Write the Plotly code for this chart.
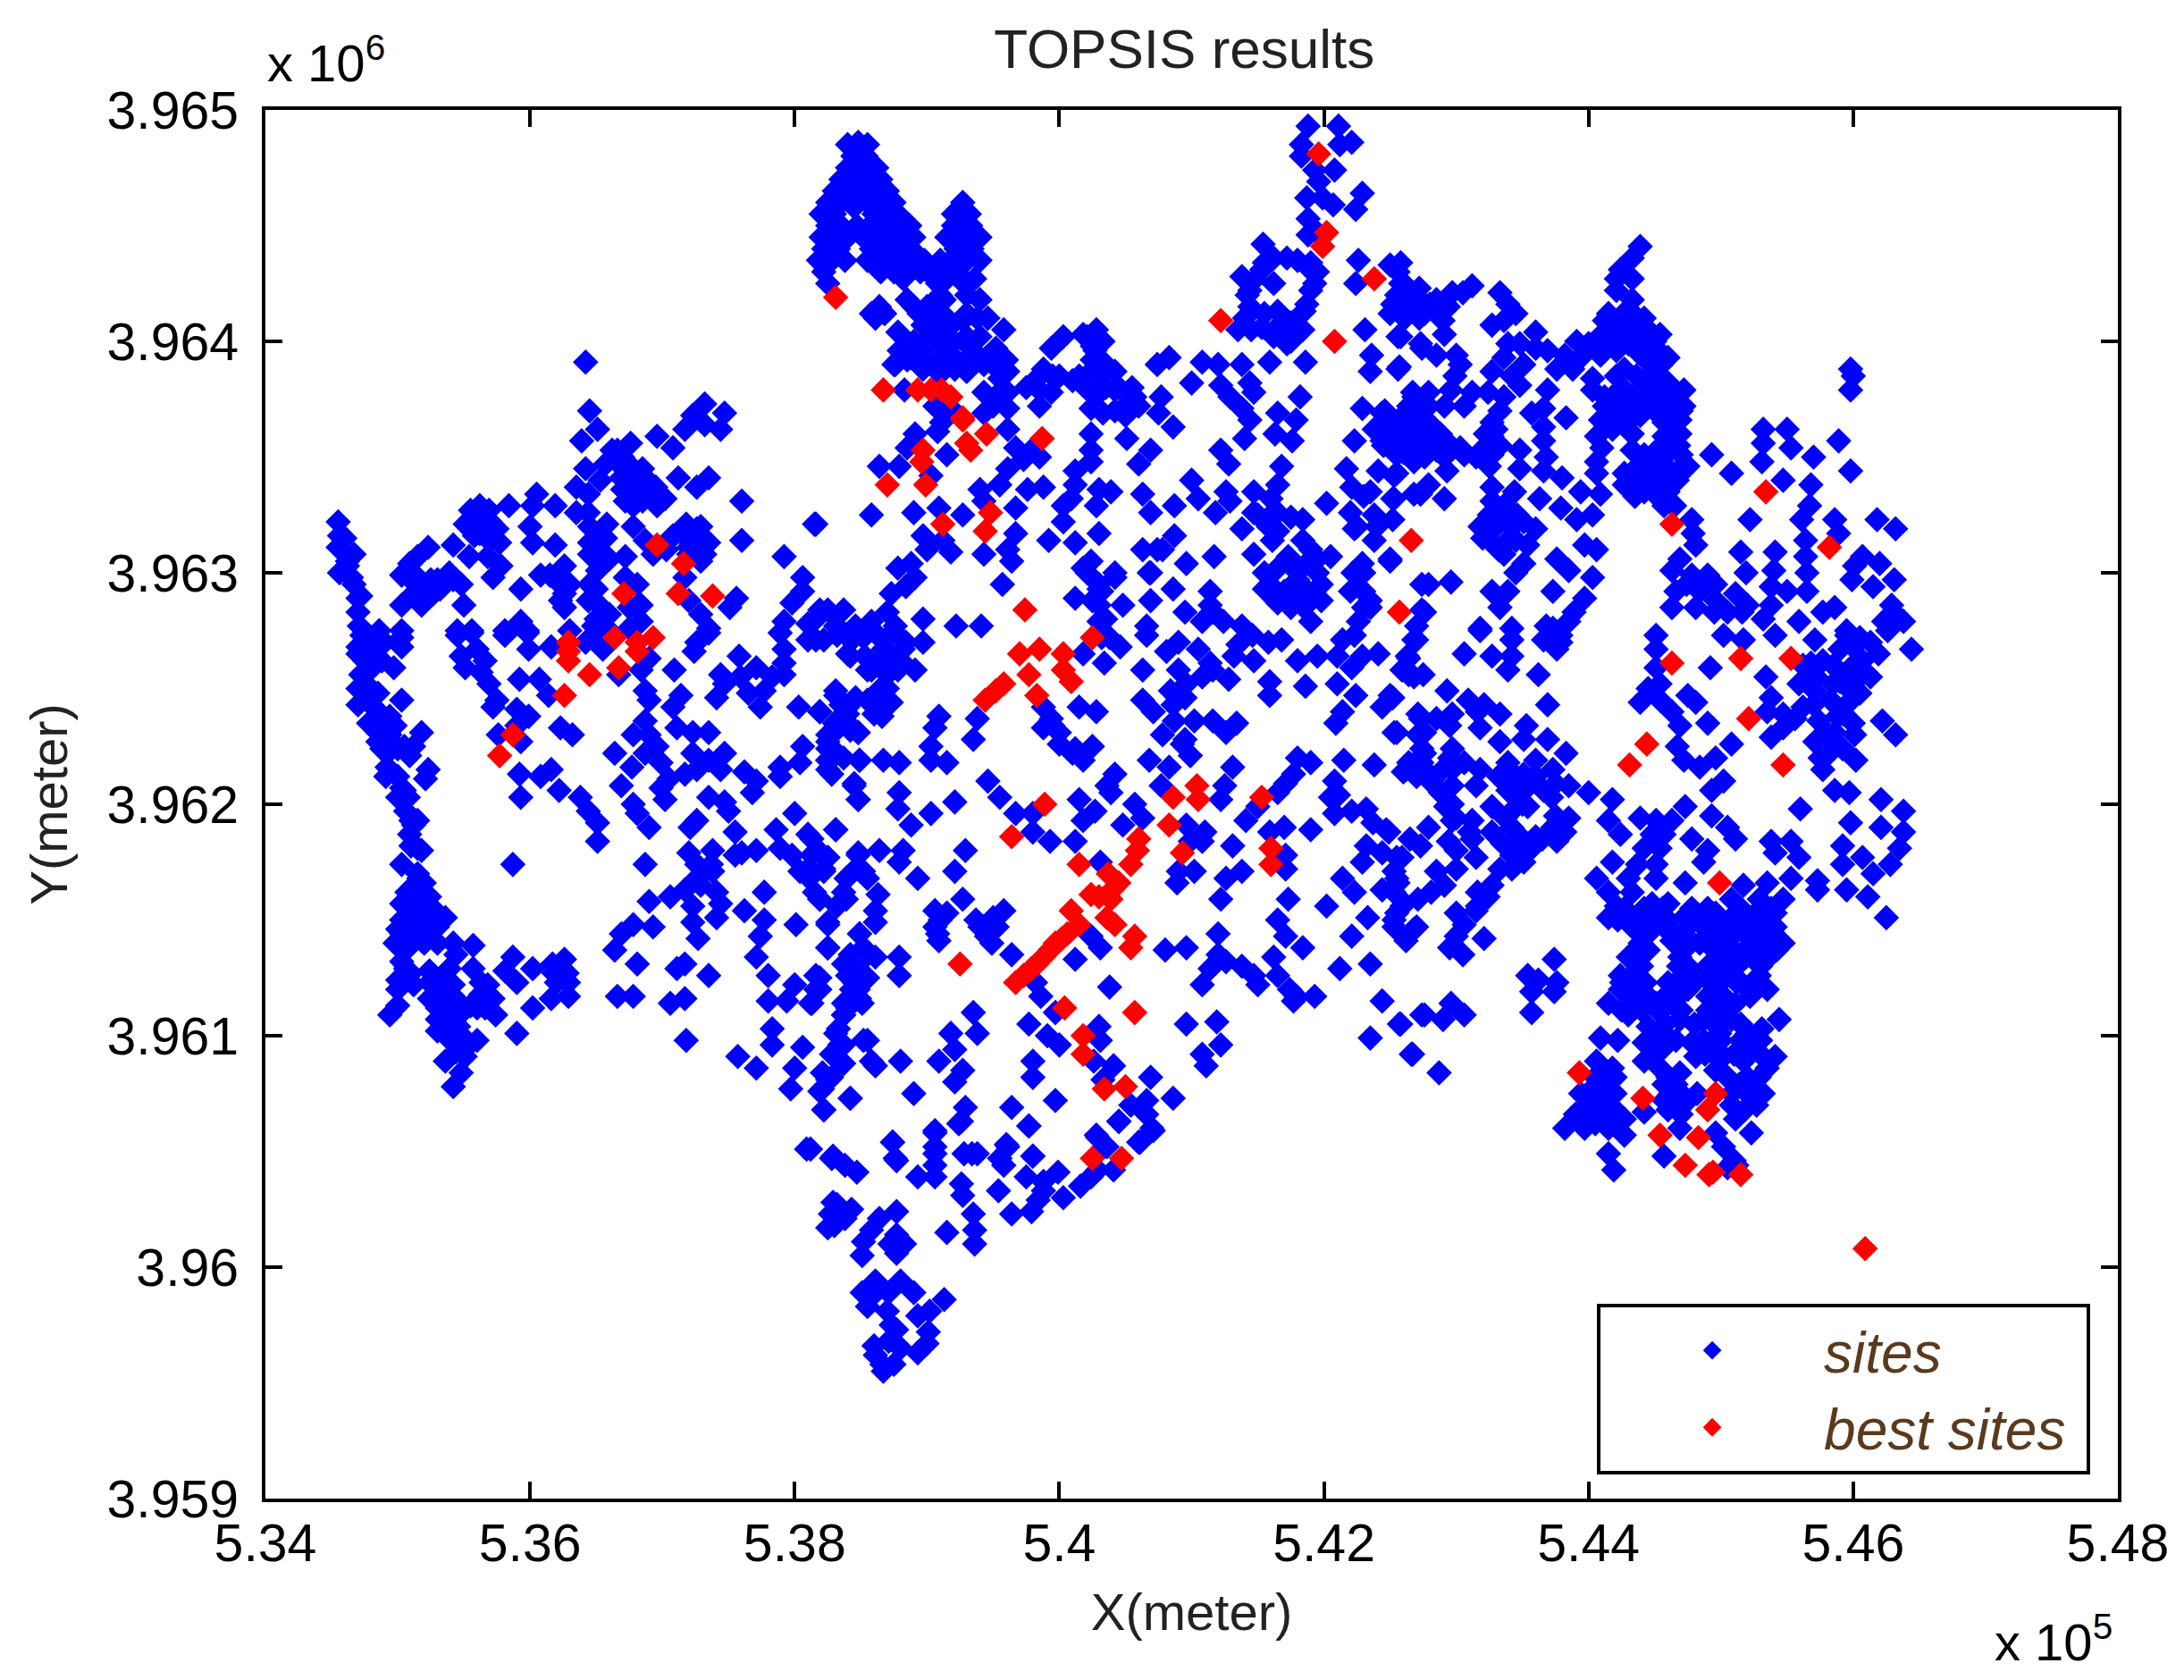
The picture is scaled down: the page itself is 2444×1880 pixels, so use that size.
import plotly.graph_objects as go

# positions, in kilometres (x, y)
sites_nc = [(541.88,3964.93),(542.11,3964.93),(538.40,3964.85),(538.48,3964.86),(538.55,3964.85),(541.83,3964.85),(542.12,3964.85),(542.21,3964.86),
(538.40,3964.75),(538.52,3964.75),(538.62,3964.75),(541.83,3964.80),(541.93,3964.74),(542.08,3964.74),
(538.30,3964.65),(538.40,3964.65),(538.50,3964.65),(538.60,3964.65),(538.70,3964.65),(541.96,3964.69),(542.29,3964.64),
(538.20,3964.55),(538.30,3964.55),(538.45,3964.58),(538.60,3964.55),(538.70,3964.55),(538.78,3964.55),(541.87,3964.62),(541.99,3964.62),(542.07,3964.59),(542.24,3964.57),(539.26,3964.58),
(538.20,3964.45),(538.28,3964.45),(538.40,3964.45),(538.52,3964.45),(538.62,3964.45),(538.72,3964.45),(538.82,3964.45),(538.90,3964.45),(539.15,3964.45),(539.27,3964.45),(539.27,3964.52),(539.40,3964.45),(541.88,3964.53),(541.95,3964.47),
(538.18,3964.35),(538.28,3964.35),(538.38,3964.35),(538.55,3964.35),(538.65,3964.35),(538.75,3964.35),(538.85,3964.35),(538.92,3964.35),(538.98,3964.35),(539.10,3964.35),(539.18,3964.35),(539.30,3964.35),(539.40,3964.35),(541.54,3964.42),(541.88,3964.46),(542.26,3964.35),(542.50,3964.33),
(538.25,3964.25),(538.60,3964.33),(538.82,3964.27),(539.06,3964.27),(539.24,3964.28),(539.36,3964.27),(541.38,3964.28),(541.53,3964.31),(541.72,3964.36),(541.90,3964.34),(541.93,3964.25),(541.44,3964.22),(541.62,3964.25),(542.24,3964.25),(542.59,3964.25),
(538.85,3964.18),(539.08,3964.18),(539.40,3964.18),(538.64,3964.15),(541.44,3964.15),(541.65,3964.13),(541.87,3964.16),(542.56,3964.16),(542.68,3964.15),
(538.61,3964.10),(538.78,3964.04),(538.97,3964.07),(539.11,3964.06),(539.27,3964.09),(539.46,3964.10),(539.58,3964.05),(540.03,3964.02),(540.21,3964.02),(540.33,3964.00),(541.35,3964.05),(541.53,3964.06),(541.68,3964.08),(541.84,3964.05),(542.31,3964.05),(542.56,3964.02),
(538.79,3963.96),(538.97,3963.96),(539.15,3963.96),(539.33,3963.97),(539.52,3963.97),(539.94,3963.97),(540.27,3963.96),(541.75,3964.00),(541.08,3963.91),(541.20,3963.90),(541.38,3963.90),(540.83,3963.93),(541.59,3963.91),(541.86,3963.91),(542.36,3963.94),(542.74,3963.97),
(538.76,3963.90),(538.97,3963.88),(539.21,3963.88),(539.43,3963.90),(539.61,3963.87),(539.88,3963.88),(540.00,3963.85),(540.24,3963.87),(540.42,3963.87),(540.74,3963.90),(541.00,3963.82),(541.22,3963.81),(541.44,3963.82),(542.35,3963.87),(542.56,3963.88),
(538.83,3963.79),(539.43,3963.78),(539.61,3963.78),(539.85,3963.79),(539.94,3963.78),(540.18,3963.81),(540.27,3963.76),(540.42,3963.79),(540.57,3963.76),(540.77,3963.76),(541.29,3963.76),(541.47,3963.78),(541.82,3963.76),(542.68,3963.76),(539.06,3963.72),(539.20,3963.70),
(539.11,3963.65),(539.43,3963.69),(539.61,3963.71),(539.85,3963.72),(540.24,3963.71),(540.33,3963.69),(540.54,3963.72),(540.75,3963.69),(540.86,3963.63),(541.38,3963.71),(541.44,3963.66),(541.65,3963.69),(541.79,3963.66),(542.29,3963.71),(542.44,3963.69),(542.68,3963.69),
(539.61,3963.62),(538.91,3963.60),(539.08,3963.61),(540.24,3963.60),(540.51,3963.58),(541.40,3963.58),(541.22,3963.53),(541.63,3963.60),(541.76,3963.57),(542.23,3963.57),(542.44,3963.57),(542.68,3963.57),
(539.67,3963.54),(539.79,3963.53),(539.15,3963.51),(538.85,3963.54),(540.24,3963.53),(540.69,3963.53),
(538.64,3963.46),(538.79,3963.46),(539.03,3963.42),(539.61,3963.45),(539.73,3963.49),(539.85,3963.50),(540.12,3963.44),(540.24,3963.48),(540.60,3963.47),(541.28,3963.47),(541.68,3963.46),(542.17,3963.45),(542.41,3963.44),(542.53,3963.42),(542.68,3963.48),
(539.40,3963.36),(539.55,3963.38),(539.76,3963.36),(539.88,3963.37),(540.12,3963.38),(540.30,3963.36),(540.39,3963.35),(540.63,3963.34),(541.00,3963.40),(541.26,3963.35),(541.47,3963.35),(541.65,3963.38),(542.21,3963.37),(542.35,3963.35),(542.68,3963.34),
(538.16,3963.21),(538.58,3963.25),(538.90,3963.26),(539.09,3963.28),(539.27,3963.25),(539.43,3963.31),(539.67,3963.28),(540.03,3963.29),(540.09,3963.32),(540.28,3963.29),(540.69,3963.26),(540.87,3963.29),(541.05,3963.32),(541.18,3963.26),(541.29,3963.31),(541.47,3963.26),(541.65,3963.26),(541.84,3963.23),(542.02,3963.30),(542.20,3963.26),(542.38,3963.25),(542.53,3963.32),
(538.97,3963.16),(539.12,3963.14),(539.67,3963.17),(539.92,3963.14),(540.03,3963.22),(540.12,3963.13),(540.30,3963.17),(540.87,3963.16),(541.38,3963.19),(541.61,3963.14),(541.84,3963.14),(542.23,3963.19),(542.38,3963.14),
(539.00,3963.10),(539.18,3963.09),(539.43,3963.08),(539.61,3963.10),(539.64,3963.05),(540.63,3963.10),(540.78,3963.10),(540.96,3963.04),(541.17,3963.07),(541.47,3963.08),(541.73,3963.07),(542.05,3963.07),(542.29,3963.04),(542.50,3963.05),(538.78,3963.02),(538.88,3963.04),(540.24,3963.05),
(538.91,3962.98),(538.84,3962.94),(539.57,3962.95),(540.18,3963.02),(540.30,3962.95),(540.42,3963.00),(540.69,3963.00),(540.86,3962.93),(541.14,3962.92),(541.59,3962.95),(541.80,3962.97),(541.98,3962.95),(542.26,3962.94),(542.74,3962.95),
(538.73,3962.91),(538.70,3962.83),(540.12,3962.89),(540.30,3962.86),(540.48,3962.86),(540.69,3962.88),(541.14,3962.86),(541.62,3962.89),(541.80,3962.88),(541.98,3962.88),(542.35,3962.88),(542.74,3962.84),(538.25,3962.84),(538.37,3962.84),
(538.16,3962.80),(538.31,3962.77),(538.46,3962.77),(538.58,3962.79),(538.76,3962.77),(538.97,3962.80),(539.22,3962.77),(539.41,3962.77),(540.30,3962.79),(540.66,3962.77),(541.08,3962.79),(541.24,3962.79),(541.38,3962.77),(541.90,3962.79),(542.26,3962.79)]

sites_nw = [(536.42,3963.91),(536.45,3963.70),(537.32,3963.73),(537.47,3963.69),(537.23,3963.68),(537.17,3963.62),(537.44,3963.62),(537.32,3963.64),(536.96,3963.59),(537.08,3963.54),
(536.51,3963.62),(536.39,3963.57),(536.42,3963.45),(536.66,3963.53),(536.76,3963.56),(536.57,3963.47),(536.53,3963.40),(536.35,3963.37),(536.44,3963.34),(536.69,3963.46),(536.78,3963.45),(536.87,3963.41),(536.69,3963.41),(536.75,3963.35),(536.90,3963.35),(537.02,3963.32),(536.78,3963.29),(536.96,3963.29),(536.85,3963.33),
(537.12,3963.41),(537.35,3963.41),(537.26,3963.37),(537.60,3963.31),(536.05,3963.34),(536.19,3963.29),(536.02,3963.29),(535.84,3963.29),(535.69,3963.27),(535.62,3963.29),(535.62,3963.22),(535.51,3963.21),(535.75,3963.19),(535.69,3963.14),(535.77,3963.13),(535.62,3963.17),
(536.35,3963.26),(536.44,3963.26),(536.58,3963.21),(536.00,3963.20),(536.02,3963.13),(536.19,3963.12),(536.45,3963.13),(536.57,3963.15),(536.47,3963.07),(536.60,3963.06),(536.72,3963.07),(536.51,3963.01),(536.45,3963.20),
(536.78,3963.20),(536.87,3963.14),(536.93,3963.08),(537.08,3963.16),(537.29,3963.20),(537.35,3963.13),(537.20,3963.08),(537.29,3963.05),(537.60,3963.14),(537.18,3963.21),(537.23,3963.16),
(537.92,3963.07),(538.15,3963.21),(538.06,3962.98),(538.06,3962.92),(537.98,3962.87),(538.19,3962.84),(537.92,3962.79),(538.10,3962.78),
(534.55,3963.22),(534.56,3963.16),(534.55,3963.11),(534.67,3963.08),(534.56,3963.00),(534.67,3962.95),(534.70,3962.89),(534.70,3962.83),(534.71,3962.77),(534.62,3963.03),
(535.42,3963.12),(535.54,3963.07),(535.23,3963.11),(535.15,3963.07),(535.09,3963.04),(535.03,3962.99),(535.68,3963.07),(535.78,3963.03),(535.72,3962.98),(535.93,3962.93),
(536.08,3962.99),(536.26,3963.03),(536.23,3962.95),(536.26,3962.91),(536.26,3962.85),(536.15,3962.99),(536.45,3962.95),(536.44,3962.88),(536.54,3962.85),(536.60,3962.82),(536.50,3962.80),
(536.72,3962.98),(536.81,3962.95),(536.84,3962.86),(536.84,3962.79),(536.48,3962.77),(537.17,3962.98),(537.20,3962.88),(537.29,3962.82),(537.35,3962.76),(537.56,3962.89),(537.51,3962.85),
(535.09,3962.98),(535.18,3962.95),(535.30,3962.97),(535.39,3963.00),(535.48,3962.95),(535.12,3962.91),(535.27,3962.91),(535.18,3962.86),(535.03,3962.86),(535.50,3962.86),(535.20,3962.93),
(535.93,3962.79),(534.86,3962.75),(535.03,3962.75),(535.45,3962.75),(535.56,3962.75),(535.81,3962.75),(535.98,3962.75),(536.30,3962.75),(536.60,3962.75)]

sites_sw = [(534.73,3962.73),(535.03,3962.72),(535.45,3962.73),(535.56,3962.74),(535.81,3962.73),(535.98,3962.74),(535.99,3962.67),(536.16,3962.68),(534.76,3962.70),(534.85,3962.70),(534.70,3962.65),(534.82,3962.64),(535.03,3962.68),(534.79,3962.58),(534.97,3962.59),
(535.48,3962.64),(535.60,3962.67),(535.66,3962.62),(535.51,3962.59),(535.63,3962.57),(535.69,3962.52),(535.75,3962.45),(535.72,3962.42),(535.90,3962.41),(535.99,3962.38),(535.92,3962.54),(536.07,3962.54),
(534.76,3962.52),(534.76,3962.46),(534.82,3962.42),(534.88,3962.36),(534.94,3962.38),(534.85,3962.31),(534.94,3962.30),(535.00,3962.24),(534.88,3962.24),(535.12,3962.25),(535.18,3962.31),(535.09,3962.21),(535.03,3962.45),(534.80,3962.49),(534.84,3962.38),
(534.92,3962.16),(534.91,3962.12),(535.00,3962.12),(535.23,3962.15),(535.21,3962.11),(535.03,3962.02),(535.06,3961.97),(535.12,3961.91),(535.09,3961.87),(535.15,3961.81),(535.03,3961.74),(535.05,3962.06),
(535.16,3961.68),(535.09,3961.62),(535.24,3961.60),(535.09,3961.54),(535.24,3961.54),(535.36,3961.51),(535.03,3961.44),(535.21,3961.47),(535.12,3961.49),(535.16,3961.57),(535.06,3961.37),(535.06,3961.29),(535.00,3961.20),(535.00,3961.13),(534.94,3961.09),
(535.30,3961.40),(535.42,3961.40),(535.57,3961.39),(535.44,3961.35),(535.39,3961.29),(535.24,3961.23),(535.42,3961.22),(535.24,3961.16),(535.36,3961.13),(535.39,3961.04),(535.30,3961.07),(535.45,3960.97),(535.60,3960.98),(535.51,3960.91),(535.36,3960.89),(535.48,3960.84),(535.42,3960.78),(535.33,3961.20),(535.45,3961.08),
(535.57,3961.29),(535.63,3961.23),(535.72,3961.16),(535.60,3961.12),(535.74,3961.09),(535.87,3961.34),(535.81,3961.28),(535.90,3961.23),(536.02,3961.29),(536.17,3961.31),(536.26,3961.33),(536.20,3961.23),(536.29,3961.23),(536.16,3961.16),(536.29,3961.17),(536.02,3961.12),(535.90,3961.01),
(535.87,3961.74),(536.87,3961.74),(536.66,3961.17),(536.78,3961.17),(537.06,3961.14),(537.17,3961.16),(537.18,3960.98),(537.57,3960.91),(537.71,3960.86),
(536.64,3961.37),(536.69,3961.44),(536.78,3961.48),(536.93,3961.47),(536.81,3961.31),(537.17,3961.31),(537.11,3961.29),(537.35,3961.26),(536.90,3961.58),(537.06,3961.60),(537.23,3961.56),(537.41,3961.51),(537.23,3961.49),(537.27,3961.42),
(537.20,3961.79),(537.38,3961.80),(537.26,3961.74),(537.38,3961.71),(537.29,3961.65),(537.41,3961.62),(537.17,3961.63),(537.44,3961.57),(537.77,3961.62),(537.62,3961.54),(537.77,3961.50),(537.74,3961.43),(537.71,3961.34),
(538.01,3961.48),(538.25,3961.48),(538.25,3961.38),(537.80,3961.26),(538.00,3961.22),(538.19,3961.25),(538.16,3961.20),(537.80,3961.15),(537.94,3961.15),(538.12,3961.14),(537.83,3961.03),(537.83,3960.96),(538.06,3960.95),(538.00,3960.86),
(538.37,3961.09),(538.31,3961.01),(538.37,3960.96),(538.28,3960.92),(538.34,3960.89),(538.58,3960.89),(538.28,3960.82),(538.21,3960.77),(537.97,3960.77),(538.42,3960.73),(538.22,3960.68),(538.09,3960.51),(538.28,3960.47),
(538.40,3961.31),(538.49,3961.28),(538.43,3961.20),(538.49,3961.16),(538.55,3961.25),(538.52,3960.98),(538.49,3961.44),(538.55,3961.35),(538.37,3961.59),(538.19,3961.59),
(538.10,3961.87),(538.13,3961.78),(538.04,3961.71),(538.22,3961.72),(538.25,3961.77),(538.48,3961.78),(538.39,3961.68),(538.52,3961.71),(538.31,3961.89),(537.86,3961.89),(537.89,3961.81),(537.98,3961.78),(537.71,3961.80),(537.55,3961.78),(537.55,3961.88),(537.50,3961.97),(537.47,3962.01),(538.00,3961.96),(537.26,3961.93),(537.21,3961.90),(537.60,3961.79),
(537.35,3962.03),(537.02,3962.02),(536.99,3962.07),(537.05,3962.11),(537.17,3962.13),(537.26,3962.15),(537.44,3962.15),(537.62,3962.14),(537.71,3962.10),(537.68,3962.05),(537.23,3962.22),(537.35,3962.19),(537.47,3962.22),(537.89,3962.16),(537.89,3962.12),(538.06,3962.25),(538.04,3962.18),
(538.25,3962.27),(538.25,3962.19),(538.28,3962.13),(538.49,3962.19),(538.45,3962.08),(538.48,3962.02),(536.87,3962.36),(536.78,3962.30),(536.90,3962.30),(536.96,3962.25),(536.87,3962.22),(536.99,3962.18),(536.64,3962.22),(536.77,3962.16),
(537.11,3962.33),(537.23,3962.31),(537.35,3962.31),(536.23,3962.33),(536.32,3962.30),(535.76,3962.30),(535.90,3962.34),(535.93,3962.27),(535.92,3962.13),(535.93,3962.03),(536.16,3962.15),(536.08,3962.12),(536.22,3962.06),(536.38,3962.03),(536.44,3961.97),(536.51,3961.92),(536.51,3961.84),(536.69,3962.08),(536.78,3962.00),(536.81,3961.96),(536.90,3961.90),
(536.42,3962.70),(536.14,3962.47),(536.67,3962.56),(536.84,3962.58),(536.90,3962.63),(536.87,3962.49),(536.90,3962.45),(537.14,3962.47),(537.08,3962.42),(537.09,3962.58),(537.58,3962.64),(537.41,3962.46),(537.26,3962.70),(537.24,3962.66),(537.35,3962.74),(537.44,3962.56),(537.59,3962.55),(537.71,3962.59),(537.47,3962.52),(537.65,3962.48),(537.77,3962.49),(537.74,3962.42),
(537.92,3962.67),(537.92,3962.61),(537.92,3962.56),(537.83,3962.55),(537.89,3962.74),(538.10,3962.71),(538.22,3962.71),(538.40,3962.65),(538.55,3962.58),(538.03,3962.42),(538.19,3962.40),(538.31,3962.49),(538.46,3962.46),(538.40,3962.42),(538.37,3962.36),(538.48,3962.31),(538.55,3962.45)]

sites_sc = [(538.16,3962.71),(538.37,3962.74),(538.61,3962.74),(538.76,3962.74),(538.97,3962.70),(538.67,3962.67),(538.82,3962.67),(538.42,3962.64),(538.82,3962.61),(538.91,3962.58),(538.70,3962.56),(538.58,3962.58),(538.70,3962.50),
(538.31,3962.47),(538.43,3962.44),(538.58,3962.44),(538.73,3962.44),(538.19,3962.40),(538.40,3962.39),(538.66,3962.38),(539.09,3962.38),(538.48,3962.31),(538.28,3962.30),(538.25,3962.24),(539.06,3962.33),(539.03,3962.25),(539.38,3962.37),(539.35,3962.28),
(538.25,3962.19),(538.49,3962.19),(538.67,3962.19),(538.79,3962.18),(539.03,3962.19),(539.15,3962.18),(538.25,3962.15),(538.45,3962.09),(538.48,3962.02),(538.79,3962.05),(538.78,3961.98),(539.21,3962.01),(539.03,3961.96),(538.88,3961.91),(539.46,3962.10),(539.55,3962.03),
(539.67,3961.96),(539.80,3961.96),(539.80,3961.88),(539.93,3961.84),(540.12,3961.84),(540.15,3962.02),(540.27,3961.97),(540.18,3961.93),(538.31,3961.89),(538.13,3961.85),(538.13,3961.78),(538.25,3961.77),(538.64,3961.80),(538.48,3961.79),(538.82,3961.80),(538.79,3961.75),
(538.46,3961.72),(538.39,3961.68),(538.55,3961.68),(538.22,3961.71),(538.11,3961.68),(538.93,3961.68),(539.21,3961.71),(539.29,3961.80),(538.63,3961.61),(538.19,3961.59),(538.39,3961.59),(538.61,3961.54),(539.27,3961.59),(538.25,3961.49),(538.61,3961.49),(538.49,3961.44),
(539.06,3961.54),(539.15,3961.53),(539.06,3961.47),(539.09,3961.41),(539.37,3961.50),(539.58,3961.54),(539.52,3961.47),(539.40,3961.47),(539.49,3961.40),(538.25,3961.38),(538.52,3961.38),(538.61,3961.34),(538.79,3961.34),(538.37,3961.31),(538.79,3961.26),(538.16,3961.26),(538.45,3961.23),(538.55,3961.25),(538.19,3961.20),(538.45,3961.17),(538.51,3961.14),
(539.64,3961.35),(540.12,3961.33),(538.13,3961.14),(538.37,3961.09),(539.35,3961.10),(538.33,3961.03),(539.38,3961.01),(539.18,3961.01),(538.55,3960.98),(538.34,3960.96),(539.21,3960.94),(538.28,3960.92),(538.37,3960.88),(538.61,3960.87),(538.80,3960.89),(539.09,3960.89),(539.27,3960.85),(539.21,3960.80),
(538.25,3960.81),(538.19,3960.76),(538.42,3960.73),(538.90,3960.75),(538.22,3960.68),(539.29,3960.69),(539.24,3960.62),(539.64,3960.69),(539.77,3960.61),(539.97,3960.72),(539.06,3960.58),(539.06,3960.49),(538.74,3960.54),(538.12,3960.51),(538.28,3960.47),(538.76,3960.47),
(539.34,3960.49),(539.61,3960.52),(539.55,3960.47),(539.80,3960.48),(539.80,3960.89),(539.80,3960.82),(539.77,3961.05),(539.91,3961.00),(540.00,3960.96),(540.30,3961.04),(540.31,3960.98),(539.97,3961.10),(539.82,3961.23),(539.86,3961.17),(540.24,3961.43),(540.31,3961.38),(540.38,3961.21),
(540.26,3960.89),(540.41,3960.87),(540.33,3960.81),(540.69,3960.82),(540.86,3960.73),(540.66,3960.72),(540.54,3960.70),(540.45,3960.63),(540.66,3960.66),(540.71,3960.59),(540.60,3960.54),(540.28,3960.57),(540.36,3960.52),
(540.96,3961.05),(541.19,3961.06),(541.22,3960.96),(541.08,3960.92),(541.11,3960.87),(540.80,3961.37),(540.96,3961.38),(541.20,3961.44),(541.20,3961.35),(541.14,3961.29),(541.38,3961.30),(541.08,3961.22),(541.65,3961.50),(541.71,3961.43),(541.84,3961.38),(541.62,3961.34),(541.65,3961.26),(541.50,3961.22),(541.74,3961.20),(541.93,3961.17),(541.77,3961.15),
(541.22,3961.59),(541.73,3961.59),(542.02,3961.56),(541.26,3961.68),(541.38,3961.71),(540.90,3961.71),(541.02,3961.71),(540.89,3961.66),(540.31,3961.75),(541.08,3961.84),(541.10,3961.88),(540.99,3961.84),(541.31,3961.82),(540.96,3961.91),(540.48,3961.91),(540.63,3961.94),(540.57,3962.00),(541.41,3961.93),(541.50,3961.99),
(541.59,3961.88),(541.70,3961.90),(541.90,3961.89),(541.71,3961.78),(541.71,3961.72),(541.65,3962.05),(541.71,3962.09),(541.77,3962.13),(541.80,3962.20),(541.90,3962.18),(542.15,3962.19),(542.38,3962.17),(540.77,3962.08),(540.42,3962.13),(540.36,3962.08),(540.39,3962.05),(541.25,3962.08),(541.22,3962.02),(541.31,3962.16),(540.68,3962.19),(540.83,3962.16),
(542.08,3962.10),(542.05,3962.03),(542.08,3961.96),(542.21,3961.97),(542.32,3961.98),(542.47,3961.89),(542.32,3961.82),(542.65,3961.85),(542.44,3961.79),(542.29,3961.75),(542.59,3961.77),(542.53,3961.71),(542.56,3961.66),(542.14,3961.68),(542.23,3961.62),(542.44,3961.63),(542.33,3961.51),(542.21,3961.43),(542.59,3961.56),(542.71,3961.59),(542.53,3961.47),(542.68,3961.46),(542.62,3961.41),(542.12,3961.29),(542.35,3961.31),(542.44,3961.15),(542.74,3961.09),(542.57,3961.05),(542.35,3960.99),(542.66,3960.92),
(540.18,3962.65),(540.46,3962.68),(540.34,3962.61),(540.15,3962.42),(540.28,3962.40),(539.88,3962.42),(539.94,3962.37),(539.88,3962.33),(540.00,3962.31),(540.00,3962.26),(540.12,3962.24),(540.25,3962.25),(540.18,3962.19),(540.63,3962.58),(540.66,3962.73),(540.90,3962.70),(540.81,3962.66),(541.05,3962.67),(541.14,3962.61),(540.90,3962.58),(541.08,3962.55),(540.96,3962.52),(540.84,3962.49),(540.63,3962.45),(540.71,3962.40),(540.86,3962.43),(540.87,3962.36),
(541.32,3962.64),(541.46,3962.73),(541.35,3962.69),(541.58,3962.70),(541.68,3962.71),(541.47,3962.62),(541.28,3962.54),(541.59,3962.53),(541.59,3962.47),(541.86,3962.51),(541.80,3962.62),(541.95,3962.64),(542.10,3962.64),(542.29,3962.64),(542.41,3962.65),(542.21,3962.59),(542.10,3962.52),(542.24,3962.47),(542.14,3962.71),(542.23,3962.73),(542.14,3962.40),(542.09,3962.35),(542.50,3962.47),(542.44,3962.42),(542.53,3962.31),
(542.71,3962.39),(542.68,3962.71),(542.59,3962.58),(542.68,3962.55),(542.71,3962.30),(542.74,3962.24),(542.62,3962.15),(542.74,3962.18),(541.16,3962.36),(541.02,3962.36),(541.34,3962.35),(541.26,3962.31),(540.78,3962.30),(540.93,3962.26),(540.99,3962.21)]

sites_ne = [(544.39,3964.41),(544.33,3964.36),(544.24,3964.31),(544.21,3964.27),(544.33,3964.27),(544.21,3964.22),(544.33,3964.18),(544.12,3964.09),(544.27,3964.10),(544.42,3964.10),(544.45,3964.05),(544.54,3964.03),(544.27,3964.05),(544.15,3964.03),(543.91,3964.00),(544.00,3963.99),(543.82,3963.94),(543.94,3963.93),(544.09,3963.94),(544.21,3963.96),(544.30,3963.99),
(544.51,3963.97),(544.60,3963.93),(544.45,3963.91),(543.76,3963.88),(543.88,3963.88),(544.03,3963.84),(544.21,3963.85),(544.45,3963.85),(544.60,3963.82),(544.72,3963.79),(544.03,3963.79),(544.27,3963.79),(544.39,3963.79),(544.51,3963.78),(544.12,3963.72),(544.27,3963.73),(544.42,3963.73),(544.57,3963.73),(544.72,3963.72),(544.09,3963.66),(544.24,3963.68),(544.39,3963.68),(544.57,3963.65),(544.69,3963.66),(544.06,3963.59),(544.18,3963.62),(544.33,3963.60),(544.57,3963.59),(544.69,3963.60),
(544.10,3963.54),(544.33,3963.53),(544.42,3963.51),(544.63,3963.54),(544.70,3963.51),(544.06,3963.48),(544.39,3963.47),(544.57,3963.47),(544.75,3963.46),(544.06,3963.43),(544.27,3963.43),(544.42,3963.43),(544.60,3963.43),(544.30,3963.37),(544.42,3963.35),(544.60,3963.35),(544.57,3963.29),
(544.93,3963.51),(545.08,3963.43),(545.32,3963.62),(545.50,3963.62),(545.32,3963.56),(545.53,3963.54),(545.31,3963.48),(545.70,3963.50),(545.89,3963.57),(545.98,3963.44),(545.47,3963.40),(545.68,3963.38),(545.67,3963.29),(545.22,3963.23),(545.61,3963.23),(545.86,3963.23),(546.18,3963.23),(546.32,3963.19),(545.89,3963.17),(545.64,3963.14),
(544.78,3963.23),(544.79,3963.17),(544.81,3963.12),(544.69,3963.06),(544.63,3963.01),(544.78,3962.99),(544.90,3962.99),(545.98,3963.88),(546.00,3963.85),(545.98,3963.79),(545.15,3963.09),(545.19,3963.00),(545.41,3963.09),(545.40,3963.01),(545.64,3963.07),(545.65,3963.00),(546.07,3963.07),(546.01,3963.03),(546.20,3963.04),(545.99,3962.97),(546.15,3962.94),(546.31,3962.97),
(544.66,3962.92),(544.84,3962.92),(544.96,3962.95),(544.63,3962.85),(544.81,3962.85),(544.96,3962.88),(545.05,3962.83),(545.11,3962.91),(545.20,3962.86),(545.38,3962.94),(545.38,3962.86),(545.50,3962.92),(545.65,3962.92),(545.32,3962.80),(545.59,3962.79),(545.77,3962.83),(545.86,3962.85),(546.29,3962.86),(546.32,3962.82),(546.23,3962.79),(546.38,3962.79),(545.95,3962.75),
(542.58,3964.02),(542.58,3964.34),(542.58,3964.25),(542.67,3964.21),(542.52,3964.16),(542.64,3964.15),(542.76,3964.16),(542.61,3964.10),(542.85,3964.18),(542.97,3964.21),(543.12,3964.24),(542.94,3964.15),(543.33,3964.21),(543.39,3964.16),(543.45,3964.12),(543.36,3964.09),(543.27,3964.07),(542.90,3964.09),(542.91,3964.03),(543.60,3964.04),
(542.73,3963.99),(542.85,3963.94),(543.00,3963.94),(543.03,3963.90),(542.57,3963.89),(543.39,3963.99),(543.48,3963.99),(543.36,3963.93),(543.60,3963.97),(543.69,3963.96),(543.51,3963.90),(543.27,3963.87),(543.42,3963.85),(542.99,3963.85),(542.96,3963.79),(542.67,3963.78),(542.79,3963.78),(543.48,3963.81),(543.69,3963.79),(543.12,3963.78),(543.24,3963.78),(543.36,3963.76),
(542.64,3963.72),(542.79,3963.72),(542.91,3963.72),(543.06,3963.72),(543.33,3963.70),(542.52,3963.65),(542.64,3963.65),(542.79,3963.65),(543.27,3963.65),(543.57,3963.69),(543.66,3963.71),(543.83,3963.67),(542.88,3963.60),(542.52,3963.57),(542.64,3963.57),(542.76,3963.57),(543.66,3963.63),(543.27,3963.59),(543.21,3963.54),(543.03,3963.54),
(542.55,3963.51),(542.76,3963.50),(542.91,3963.50),(543.06,3963.51),(543.27,3963.51),(543.48,3963.53),(543.66,3963.57),(543.68,3963.50),(543.66,3963.44),(543.48,3963.45),(542.55,3963.43),(542.93,3963.44),(543.80,3963.41),(542.79,3963.38),(542.52,3963.32),(542.73,3963.34),(542.91,3963.32),(543.27,3963.37),(543.44,3963.35),(543.36,3963.29),(543.63,3963.32),(543.79,3963.28),(543.94,3963.35),(544.09,3963.34),(543.91,3963.23),(544.03,3963.25),(544.27,3963.38),
(543.18,3963.20),(543.33,3963.22),(543.51,3963.22),(543.60,3963.19),(543.27,3963.13),(543.39,3963.14),(543.54,3963.12),(543.97,3963.12),(544.06,3963.10),(542.50,3963.06),(542.52,3963.23),(543.76,3963.06),(543.85,3963.01),(543.51,3963.04),(543.45,3963.00),(544.03,3962.98),(542.79,3962.95),(542.96,3962.96),(543.73,3962.92),(543.27,3962.92),(543.39,3962.92),(543.33,3962.85),(543.97,3962.89),(542.76,3962.83),(543.85,3962.79),(543.73,3962.76),(543.18,3962.76),(543.42,3962.76),(542.70,3962.77)]

sites_se = [(542.70,3962.71),(543.79,3962.73),(543.66,3962.71),(543.42,3962.71),(543.18,3962.75),(542.64,3962.63),(543.06,3962.65),(543.27,3962.64),(543.42,3962.64),(543.76,3962.67),(542.64,3962.56),(542.75,3962.56),(543.39,3962.58),(543.62,3962.56),(542.93,3962.49),(543.09,3962.45),(543.21,3962.43),(543.69,3962.43),(542.52,3962.46),(542.73,3962.37),(542.85,3962.37),(542.97,3962.39),(543.33,3962.39),
(542.76,3962.31),(543.18,3962.33),(543.33,3962.27),(543.53,3962.34),(543.51,3962.28),(542.55,3962.31),(543.69,3962.28),(543.83,3962.22),(542.97,3962.24),(542.76,3962.22),(542.64,3962.18),(542.76,3962.15),(543.06,3962.18),(543.18,3962.15),(543.39,3962.18),(543.60,3962.19),(543.51,3962.13),(543.73,3962.15),(542.82,3962.09),(542.97,3962.08),(543.15,3962.08),(543.39,3962.06),(543.66,3962.06),(543.85,3962.08),(544.00,3962.05),
(543.27,3961.99),(543.42,3961.97),(543.54,3961.99),(542.97,3962.00),(544.18,3962.02),(544.15,3961.93),(544.24,3961.87),(542.97,3961.93),(543.12,3961.93),(543.27,3961.88),(543.42,3961.90),(543.73,3961.90),(543.85,3961.94),(542.49,3961.88),(542.79,3961.90),(542.73,3961.82),(542.94,3961.84),(543.12,3961.85),(543.42,3961.84),(543.57,3961.81),(543.76,3961.84),
(542.55,3961.77),(543.00,3961.80),(543.15,3961.77),(543.42,3961.78),(542.85,3961.71),(543.00,3961.72),(543.33,3961.72),(543.51,3961.75),(542.55,3961.68),(542.91,3961.65),(543.27,3961.65),(542.81,3961.62),(543.24,3961.60),(542.61,3961.57),(542.55,3961.53),(543.00,3961.53),(543.15,3961.54),(542.70,3961.47),(542.55,3961.46),(543.06,3961.48),(543.00,3961.43),(543.21,3961.42),(543.05,3961.35),
(543.74,3961.33),(543.54,3961.26),(543.76,3961.23),(543.57,3961.19),(543.74,3961.19),(543.57,3961.10),(543.62,3961.24),(542.96,3961.14),(542.76,3961.09),(542.90,3961.07),(543.06,3961.09),(542.58,3961.05),(542.67,3960.92),(542.87,3960.84),
(544.51,3962.73),(544.51,3962.67),(544.51,3962.59),(544.92,3962.59),(544.45,3962.50),(544.54,3962.52),(544.75,3962.47),(544.81,3962.44),(544.39,3962.44),(544.54,3962.45),(544.63,3962.40),(544.69,3962.34),(544.90,3962.35),(545.02,3962.73),(545.17,3962.71),(545.41,3962.73),(545.71,3962.71),(545.95,3962.73),(546.26,3962.75),(546.44,3962.67),(546.13,3962.70),
(545.34,3962.55),(545.38,3962.46),(545.35,3962.40),(545.47,3962.39),(545.59,3962.52),(545.68,3962.61),(545.77,3962.62),(545.71,3962.49),(545.83,3962.45),(545.95,3962.56),(546.07,3962.62),(546.13,3962.55),(545.98,3962.49),(546.19,3962.65),(545.62,3962.42),(545.56,3962.37),(545.92,3962.39),(545.74,3962.36),(545.47,3962.33),(545.38,3962.29),(545.86,3962.31),(546.01,3962.30),(545.71,3962.27),(545.80,3962.21),(545.77,3962.15),(546.02,3962.19),(546.22,3962.36),(546.32,3962.30),
(545.08,3962.26),(544.67,3962.25),(544.72,3962.19),(544.84,3962.16),(544.96,3962.20),(545.02,3962.10),(544.93,3962.06),(545.86,3962.06),(545.97,3962.05),(546.21,3962.02),(545.60,3961.98),(546.38,3961.97),(545.98,3961.92),(546.21,3961.90),(546.38,3961.88),(546.35,3961.81),
(544.39,3961.94),(544.51,3961.93),(544.63,3961.93),(544.73,3961.99),(544.93,3961.95),(545.05,3961.90),(545.11,3961.85),(544.48,3961.87),(544.57,3961.87),(544.42,3961.81),(544.54,3961.81),(544.78,3961.85),(544.90,3961.80),(544.87,3961.75),(545.38,3961.84),(545.53,3961.84),(545.41,3961.79),(545.59,3961.77),(545.53,3961.68),(545.92,3961.82),(546.07,3961.77),(545.92,3961.74),(546.15,3961.70),(546.28,3961.74),(545.73,3961.67),(545.73,3961.63),(545.95,3961.63),(546.11,3961.60),(546.25,3961.51),
(544.18,3961.75),(544.37,3961.74),(544.51,3961.74),(544.51,3961.68),(544.73,3961.66),(544.06,3961.68),(544.30,3961.68),(544.15,3961.62),(544.33,3961.62),(545.17,3961.65),(545.35,3961.66),(544.48,3961.57),(544.60,3961.57),(544.21,3961.56),(545.08,3961.59),(545.29,3961.59),(545.47,3961.59),(544.15,3961.51),(544.39,3961.51),(544.51,3961.53),(544.72,3961.51),(544.96,3961.53),(545.08,3961.51),(545.41,3961.53),
(544.33,3961.47),(544.57,3961.47),(544.87,3961.47),(545.05,3961.47),(545.23,3961.47),(545.41,3961.47),(544.39,3961.40),(544.63,3961.41),(544.84,3961.40),(545.02,3961.41),(545.29,3961.41),(545.47,3961.40),(544.30,3961.34),(544.69,3961.34),(545.02,3961.34),(545.23,3961.34),(545.38,3961.35),(544.24,3961.26),(544.36,3961.28),(544.66,3961.23),(544.87,3961.26),(545.08,3961.26),(545.29,3961.26),
(544.24,3961.20),(544.39,3961.20),(544.75,3961.20),(544.96,3961.20),(545.17,3961.22),(545.35,3961.20),(544.33,3961.14),(544.51,3961.14),(544.63,3961.14),(544.96,3961.14),(545.11,3961.14),(544.15,3961.14),(544.30,3961.09),(544.54,3961.10),(544.69,3961.07),(544.87,3961.07),(545.08,3961.07),(545.44,3961.07),(545.31,3961.03),(544.45,3961.04),(544.57,3961.01),(544.99,3961.01),(545.20,3961.01),
(544.09,3960.99),(544.22,3960.98),(544.42,3960.97),(544.57,3960.95),(544.78,3960.97),(545.23,3960.95),(544.42,3960.89),(544.54,3960.86),(544.81,3960.91),(545.02,3960.91),(545.17,3960.89),(545.41,3960.91),(545.35,3960.86),(544.06,3960.89),(544.18,3960.86),(544.69,3960.84),(544.66,3960.79),(544.96,3960.85),(545.29,3960.82),(544.06,3960.79),(543.94,3960.75),(544.12,3960.76),(544.00,3960.72),(544.15,3960.70),
(544.57,3960.79),(545.14,3960.79),(545.32,3960.75),(544.57,3960.72),(544.75,3960.72),(544.42,3960.67),(545.08,3960.70),(545.27,3960.70),(543.90,3960.66),(544.06,3960.64),(544.27,3960.64),(544.70,3960.66),(545.11,3960.64),(543.82,3960.60),(543.97,3960.60),(544.15,3960.60),(544.27,3960.57),(544.69,3960.60),(544.96,3960.58),(545.23,3960.58),(545.02,3960.52),(544.15,3960.49),(544.57,3960.48),(545.10,3960.46),(544.19,3960.42),(545.05,3960.43),(545.12,3960.44)]

sites_south = [(538.29,3960.48),(538.38,3960.44),(538.47,3960.41),(538.74,3960.54),(538.77,3960.46),(538.93,3960.39),(539.06,3960.59),(539.06,3960.52),(539.06,3960.44),(539.06,3960.39),(539.26,3960.63),(539.28,3960.49),(539.38,3960.49),(539.60,3960.53),(539.55,3960.47),(539.58,3960.44),(539.80,3960.48),(539.77,3960.61),
(539.75,3960.39),(539.88,3960.37),(539.99,3960.41),(539.54,3960.33),(539.26,3960.36),(539.27,3960.31),(538.29,3960.28),(538.43,3960.25),(538.27,3960.23),(538.25,3960.17),(538.36,3960.24),(538.77,3960.24),(538.64,3960.21),(538.58,3960.16),(538.52,3960.11),(538.51,3960.05),(538.77,3960.10),(538.72,3960.10),(538.83,3960.10),(538.77,3960.06),(538.77,3960.14),(539.35,3960.23),(539.36,3960.16),(539.15,3960.15),(539.36,3960.10),
(539.64,3960.23),(539.79,3960.24),(539.84,3960.29),(539.88,3960.33),(540.03,3960.30),(540.16,3960.35),(540.24,3960.39),(540.29,3960.42),(540.41,3960.42),(540.29,3960.56),(540.34,3960.52),(540.61,3960.54),(540.70,3960.60),(540.45,3960.63),
(538.61,3959.94),(538.80,3959.94),(538.51,3959.89),(538.61,3959.89),(538.71,3959.89),(538.90,3959.89),(539.13,3959.86),(538.55,3959.83),(538.70,3959.81),(539.02,3959.81),(538.93,3959.79),(538.73,3959.75),(538.77,3959.73),(539.01,3959.72),(539.00,3959.67),(538.71,3959.68),(538.60,3959.66),(538.80,3959.65),(538.93,3959.63),(538.61,3959.62),(538.66,3959.58),(538.75,3959.58),(538.67,3959.55)]

# second pass over the densest clusters
dense_west = [(534.60,3963.15),(534.62,3963.05),(534.65,3962.98),(534.72,3962.90),(534.70,3962.68),(534.80,3962.72),(534.90,3962.70),(534.75,3962.62),(534.88,3962.62),(534.70,3962.50),(534.70,3962.43),(534.85,3962.48),(534.72,3962.56),(534.80,3962.43),(534.78,3962.35),(534.90,3962.36),(534.98,3962.34),(534.85,3962.27),(534.95,3962.27),(534.92,3962.22),(535.05,3962.25),
(535.03,3962.07),(535.08,3962.03),(535.00,3962.03),(535.10,3961.93),(535.15,3961.93),(535.10,3961.82),(535.18,3961.80),(535.15,3961.70),(535.20,3961.66),(535.07,3961.62),(535.18,3961.60),(535.03,3961.57),(535.14,3961.53),(535.20,3961.58),(535.30,3961.53),(535.03,3961.50),(535.18,3961.50),(535.30,3961.47),(535.00,3961.46),(535.12,3961.44),(535.24,3961.45),(534.98,3961.40),(535.10,3961.40),(535.20,3961.40),(535.03,3961.32),(535.10,3961.27),(535.00,3961.24),(535.12,3961.22),
(535.24,3961.28),(535.30,3961.24),(535.33,3961.18),(535.42,3961.17),(535.30,3961.12),(535.42,3961.10),(535.50,3961.12),(535.55,3961.13),(535.66,3961.12),(535.63,3961.18),(535.68,3961.22),(535.37,3961.05),(535.46,3961.04),(535.30,3961.02),(535.40,3960.98),(535.50,3960.99),(535.52,3960.95),(535.44,3960.93),(536.18,3961.27),(536.28,3961.27),(536.22,3961.30),
(536.70,3963.50),(536.85,3963.45),(536.80,3963.38),(536.70,3963.36),(536.85,3963.31),(536.95,3963.37),(536.72,3963.31),(536.62,3963.53),(536.72,3963.48),(536.92,3963.32),(535.60,3963.25),(535.55,3963.27),(535.68,3963.20),(535.58,3963.16),(535.70,3963.22),(536.50,3963.10),(536.55,3963.08),(536.45,3963.08),(536.55,3963.15),(537.03,3963.10),(537.18,3963.15),(537.25,3963.14),(537.05,3963.14),(537.20,3963.11),(537.27,3963.08),(537.32,3963.08),
(535.15,3962.98),(535.20,3962.88),(535.12,3962.96),(535.25,3962.97),(535.32,3962.93),(535.42,3962.97),(536.23,3962.88),(536.30,3962.95),(536.50,3962.93),(536.75,3962.85),(536.80,3962.85),(536.75,3962.76),(536.50,3962.72),(536.55,3962.67),(536.60,3962.72)]

dense_north = [(538.44,3964.80),(538.54,3964.80),(538.35,3964.70),(538.45,3964.70),(538.55,3964.70),(538.65,3964.70),(538.25,3964.60),(538.35,3964.60),(538.55,3964.60),(538.65,3964.60),(538.75,3964.60),(538.25,3964.50),(538.35,3964.50),(538.47,3964.50),(538.57,3964.50),(538.67,3964.50),(538.77,3964.50),(538.87,3964.50),(538.22,3964.40),(538.33,3964.40),(538.58,3964.40),(538.68,3964.40),(538.78,3964.40),(538.88,3964.40),(538.22,3964.30),(538.65,3964.30),(538.75,3964.30),(538.85,3964.30),(538.95,3964.30),
(539.27,3964.60),(539.20,3964.55),(539.32,3964.55),(539.20,3964.50),(539.33,3964.50),(539.22,3964.40),(539.34,3964.40),(539.22,3964.30),(539.10,3964.20),(539.30,3964.20),
(538.75,3963.90),(538.85,3963.92),(538.90,3964.00),(539.00,3964.00),(539.08,3964.00),(539.20,3964.00),(539.30,3964.02),(539.40,3964.02),(539.45,3963.93),(539.22,3963.92),(539.02,3963.92),(538.88,3963.93),(539.10,3963.92),(539.10,3963.86),(539.30,3963.87),(539.35,3963.95),(539.50,3963.90),(539.60,3963.92),(539.55,3963.84),(539.15,3964.10),(539.05,3964.12),(539.30,3964.12),(539.38,3964.10),(539.00,3964.15),(539.13,3964.18),(538.94,3964.12),(539.05,3964.05),(539.15,3964.05),(539.08,3964.25),(539.08,3964.30),(539.02,3964.30),(539.15,3964.27),(539.28,3964.25),(538.58,3964.12),(538.68,3964.12),(538.90,3964.15),
(540.30,3963.85),(540.35,3963.80),(540.45,3963.80),(540.50,3963.72),(540.55,3963.80),(540.25,3963.92),(540.35,3963.90),(540.15,3963.85),(540.10,3963.83),(539.85,3963.85),(539.95,3963.85),(539.75,3963.80),(539.55,3963.78),(539.50,3963.72),(540.60,3963.72),(540.50,3963.68),(540.42,3963.70),(540.28,3964.05),(540.18,3964.03),(540.25,3963.98),
(541.40,3964.10),(541.45,3964.05),(541.55,3964.12),(541.70,3964.05),(541.75,3964.08),(541.72,3963.99),(541.62,3964.02),(541.42,3964.20),(541.48,3964.27),(541.55,3964.34),(541.62,3964.36),(541.80,3964.35),(541.88,3964.32),(541.90,3964.22),(541.85,3964.13),(541.95,3964.30),
(541.55,3963.00),(541.65,3963.02),(541.75,3963.03),(541.85,3963.03),(541.95,3963.00),(541.55,3962.93),(541.70,3962.92),(541.88,3962.92),(541.65,3962.87),(541.75,3962.85),(541.85,3962.85),(541.90,3963.10),(541.95,3963.06),(541.50,3963.25),(541.60,3963.25),(541.60,3963.32),(541.75,3963.24),(541.58,3963.20),(541.65,3963.18),
(542.30,3963.00),(542.30,3962.92),(542.20,3962.92),(542.22,3963.00),(542.35,3962.85),(542.30,3962.85),(542.40,3963.20),(542.25,3963.20),(542.30,3963.33),(542.45,3963.55),(542.38,3963.62),(542.48,3963.67),(540.30,3962.93),(540.25,3962.88),(540.35,3962.80),(540.32,3962.72),(540.38,3962.72),
(538.45,3962.72),(538.52,3962.72),(538.70,3962.72),(538.65,3962.62),(538.72,3962.62),(538.78,3962.58),(538.65,3962.50),(538.65,3962.44),(538.60,3962.39),(538.35,3962.43),(538.42,3962.32),(538.30,3962.35),(538.25,3962.30),(538.30,3962.22),(538.37,3962.20),(538.40,3961.26),(538.42,3961.30),(538.48,3961.20),(538.40,3961.12),(538.50,3961.24),(538.42,3961.35),(538.18,3961.80),(538.10,3961.72),(538.15,3961.62),(539.10,3961.50),(539.08,3961.44),(539.50,3961.51),(539.43,3961.47),(539.45,3961.43)]

dense_east = [(542.56,3964.30),(542.62,3964.24),(542.72,3964.23),(542.55,3964.20),(542.62,3964.18),(542.72,3964.10),(542.76,3964.12),(542.80,3964.16),(542.50,3964.12),(542.88,3964.12),(543.05,3964.21),
(544.15,3964.12),(544.20,3964.07),(544.30,3964.14),(544.38,3964.07),(544.10,3964.03),(544.33,3964.02),(544.24,3964.00),(544.42,3964.02),(544.50,3964.00),(544.15,3963.98),(544.38,3963.95),(544.52,3963.92),(544.27,3963.88),(544.36,3963.85),(544.50,3963.85),(544.55,3963.90),(544.32,3963.76),(544.45,3963.76),(544.58,3963.79),(544.66,3963.76),(544.18,3963.76),(544.12,3963.76),(544.20,3963.70),(544.35,3963.70),(544.50,3963.70),(544.64,3963.69),(544.70,3963.70),(544.13,3963.63),(544.28,3963.64),(544.62,3963.63),(544.62,3963.56),(544.68,3963.55),(544.50,3963.45),(544.50,3963.52),(544.55,3963.41),(544.48,3963.40),(544.35,3963.40),(544.67,3963.40),(544.70,3963.45),(544.35,3963.33),(544.52,3963.33),(544.65,3963.29),
(543.25,3963.25),(543.38,3963.27),(543.20,3963.15),(543.30,3963.20),(543.42,3963.20),(543.46,3963.25),(543.24,3963.19),(543.32,3963.10),(543.45,3963.14),(543.36,3963.08),(543.27,3963.31),
(542.46,3963.70),(542.50,3963.62),(542.58,3963.67),(542.70,3963.68),(542.58,3963.60),(542.70,3963.60),(542.82,3963.60),(542.94,3963.56),(542.60,3963.52),(542.70,3963.53),(542.85,3963.53),(543.30,3963.62),(543.22,3963.60),(543.33,3963.55),(543.15,3963.50),(543.25,3963.46),
(542.60,3962.14),(542.70,3962.12),(542.88,3962.14),(542.97,3962.15),(542.95,3962.20),(542.88,3962.05),(542.92,3961.99),(543.00,3961.94),(543.10,3961.88),(543.45,3962.05),(543.50,3962.00),(543.55,3962.08),(543.45,3962.12),(543.32,3962.12),(543.60,3962.12),(543.75,3962.09),(543.72,3962.03),(543.37,3961.94),(543.35,3961.83),(543.50,3961.85),(543.60,3961.86),(543.75,3961.95),(543.82,3961.88),(543.65,3961.85),(543.42,3961.72),(543.50,3961.78),
(545.62,3962.60),(545.72,3962.55),(545.85,3962.60),(545.90,3962.67),(546.00,3962.68),(546.05,3962.72),(546.00,3962.60),(546.05,3962.55),(545.90,3962.53),(545.70,3962.43),(545.85,3962.52),(545.95,3962.43),(546.05,3962.48),(545.88,3962.38),(546.00,3962.35),(545.85,3962.26),(545.92,3962.24),(545.82,3962.30),(545.75,3962.20)]

dense_se_blob = [(544.27,3961.55),(544.42,3961.55),(544.56,3961.55),(544.78,3961.55),(544.90,3961.55),(545.15,3961.55),(545.30,3961.55),(545.38,3961.55),
(544.22,3961.50),(544.30,3961.50),(544.48,3961.50),(544.60,3961.50),(544.80,3961.50),(544.90,3961.50),(545.00,3961.50),(545.15,3961.50),(545.25,3961.50),(545.33,3961.50),
(544.45,3961.44),(544.65,3961.44),(544.72,3961.44),(544.93,3961.44),(545.10,3961.44),(545.18,3961.44),(545.35,3961.44),
(544.36,3961.37),(544.45,3961.37),(544.72,3961.37),(544.95,3961.37),(545.10,3961.37),(545.18,3961.37),(545.34,3961.37),(545.42,3961.37),
(544.40,3961.30),(544.68,3961.30),(544.75,3961.30),(544.90,3961.30),(544.98,3961.30),(545.12,3961.30),(545.30,3961.30),
(544.25,3961.23),(544.32,3961.23),(544.43,3961.23),(544.60,3961.23),(544.72,3961.23),(544.80,3961.23),(544.92,3961.23),(545.00,3961.23),(545.12,3961.23),(545.25,3961.23),
(544.30,3961.17),(544.45,3961.17),(544.58,3961.17),(544.68,3961.17),(544.90,3961.17),(545.02,3961.17),(545.22,3961.17),
(544.25,3961.11),(544.40,3961.11),(544.70,3961.11),(544.90,3961.11),(545.02,3961.11),(544.58,3961.05),(544.80,3961.05),(544.95,3961.05),(545.00,3961.05),(545.15,3961.05),
(544.48,3960.98),(544.66,3960.98),(544.87,3960.98),(545.00,3960.98),(545.15,3960.98),(545.30,3960.98),(544.48,3960.92),(544.88,3960.92),(544.95,3960.92),(545.10,3960.92),(545.30,3960.92),
(544.10,3960.82),(544.20,3960.82),(544.05,3960.82),(544.60,3960.82),(545.05,3960.82),(545.20,3960.82),(544.02,3960.75),(544.20,3960.75),(544.10,3960.75),(544.62,3960.75),(544.70,3960.75),(544.82,3960.75),(545.08,3960.75),(545.20,3960.75),(545.25,3960.75),
(543.95,3960.68),(544.05,3960.68),(544.12,3960.68),(544.20,3960.68),(544.60,3960.68),(544.68,3960.68),(545.18,3960.68),(544.05,3960.62),(544.12,3960.62),(544.20,3960.62),(538.30,3960.18),(538.32,3960.27),(538.38,3960.21)]

dense_mid = [(538.32,3962.73),(538.53,3962.64),(538.74,3962.64),(538.42,3962.34),(538.32,3962.22),(538.84,3962.70),(540.32,3962.92),(540.42,3962.98),(540.21,3963.00),(540.74,3963.10),(540.68,3963.00),(540.95,3962.83),(541.16,3962.83),(541.16,3962.58),(540.95,3962.46),(540.95,3962.28),(539.95,3962.34),(540.10,3962.22),
(542.63,3962.64),(542.95,3962.34),(543.16,3962.40),(543.68,3962.77),(543.79,3962.70),(543.89,3962.83),(542.74,3963.67),(537.26,3963.19),(544.74,3962.95),(544.95,3962.83),(545.16,3962.83),(537.26,3961.68),(537.37,3961.74),(538.37,3961.62),(538.32,3961.56),(538.42,3961.26),(538.37,3961.14),(538.21,3960.84),(539.53,3961.47),
(541.26,3961.32),(541.47,3961.26),(541.79,3961.17),(543.16,3961.56),(542.95,3961.38),(543.16,3961.62),(542.37,3961.92),(542.11,3962.04),(542.53,3961.62),(542.53,3961.50)]

best_sites = [(538.31,3964.19),(541.22,3964.09),(542.08,3964.00),(541.96,3964.81),(542.02,3964.47),(541.99,3964.41),(542.38,3964.27),
(538.67,3963.79),(538.93,3963.79),(539.03,3963.79),(539.11,3963.79),(539.18,3963.76),(539.27,3963.67),(539.27,3963.66),(539.45,3963.60),(539.87,3963.58),(539.33,3963.53),(539.30,3963.56),(538.97,3963.53),(538.96,3963.48),(538.70,3963.38),(538.99,3963.38),(539.48,3963.26),(539.12,3963.21),(539.44,3963.18),(539.74,3962.84),(542.57,3962.83),(542.66,3963.14),
(536.96,3963.12),(537.16,3963.04),(536.71,3962.91),(537.12,3962.91),(537.38,3962.90),(536.29,3962.70),(536.29,3962.62),(536.29,3962.66),(536.64,3962.72),(536.81,3962.70),(536.81,3962.66),(536.93,3962.72),(536.67,3962.59),(536.45,3962.56),(536.26,3962.47),(535.87,3962.30),(535.77,3962.21),
(540.25,3962.72),(539.70,3962.65),(539.85,3962.67),(539.77,3962.56),(540.03,3962.65),(540.03,3962.58),(540.09,3962.53),(539.83,3962.47),(539.58,3962.52),(539.52,3962.49),(539.44,3962.45),(539.89,3962.00),(539.64,3961.86),(540.83,3961.91),(540.86,3962.03),(541.04,3962.08),(541.05,3962.02),(541.53,3962.03),(540.60,3961.85),(540.59,3961.80),(540.54,3961.74),(540.93,3961.79),(541.60,3961.81),(541.60,3961.74),(540.15,3961.74),(540.37,3961.70),(540.40,3961.63),(540.24,3961.61),(540.39,3961.59),(540.45,3961.66),(540.09,3961.54),(540.36,3961.51),(540.42,3961.48),(540.30,3961.60),(540.57,3961.43),(540.54,3961.38),(540.15,3961.48),(540.06,3961.44),(539.97,3961.40),(539.88,3961.34),(539.79,3961.29),(539.67,3961.23),(540.02,3961.42),(539.93,3961.37),(539.83,3961.31),(539.73,3961.26),(539.25,3961.31),(540.04,3961.12),(540.57,3961.10),(540.18,3961.00),(540.18,3960.92),(540.34,3960.77),(540.50,3960.78),(540.25,3960.47),(540.47,3960.47),
(545.34,3963.35),(544.63,3963.21),(545.82,3963.11),(544.63,3962.61),(545.15,3962.63),(545.53,3962.63),(545.21,3962.37),(544.44,3962.26),(544.31,3962.17),(545.47,3962.17),(544.99,3961.66),(543.93,3960.84),(544.41,3960.73),(544.96,3960.75),(544.90,3960.68),(544.54,3960.57),(544.83,3960.56),(544.73,3960.44),(544.91,3960.40),(544.94,3960.41),(545.15,3960.40),(546.09,3960.08)]

x_tick_values = [534000, 536000, 538000, 540000, 542000, 544000, 546000, 548000]
x_tick_labels = ["5.34", "5.36", "5.38", "5.4", "5.42", "5.44", "5.46", "5.48"]
y_tick_values = [3959000, 3960000, 3961000, 3962000, 3963000, 3964000, 3965000]
y_tick_labels = ["3.959", "3.96", "3.961", "3.962", "3.963", "3.964", "3.965"]

all_sites = (sites_nw + sites_sw + sites_nc + sites_sc + sites_ne + sites_se + sites_south
             + dense_west + dense_north + dense_east + dense_se_blob + dense_mid)
FONT = "Liberation Sans"

fig = go.Figure()
fig.add_trace(go.Scatter(x=[p[0] * 1000 for p in all_sites], y=[p[1] * 1000 for p in all_sites], mode="markers", name="sites",
                         marker=dict(symbol="diamond", size=22, color="#0000ff", line=dict(width=0))))
fig.add_trace(go.Scatter(x=[p[0] * 1000 for p in best_sites], y=[p[1] * 1000 for p in best_sites], mode="markers", name="best sites\u00a0",
                         marker=dict(symbol="diamond", size=22, color="#ff0000", line=dict(width=0))))

axis_common = dict(showgrid=False, zeroline=False, showline=True, linecolor="black", linewidth=4, mirror="ticks",
                   ticks="inside", ticklen=19, tickwidth=4, tickcolor="black",
                   tickfont=dict(family=FONT, size=59, color="black"))
fig.update_xaxes(range=[534000, 548000], tickvals=x_tick_values, ticktext=x_tick_labels, ticklabelstandoff=-5,
                 title=dict(text="X(meter)", font=dict(family=FONT, size=58, color="#222"), standoff=26), **axis_common)
fig.update_yaxes(range=[3959000, 3965000], tickvals=y_tick_values, ticktext=y_tick_labels, ticklabelstandoff=14,
                 title=dict(text="Y(meter)", font=dict(family=FONT, size=58, color="#222"), standoff=26), **axis_common)

fig.update_layout(width=2444, height=1880, autosize=False, paper_bgcolor="white", plot_bgcolor="white",
                  margin=dict(l=297, r=74, t=123, b=203, autoexpand=False),
                  title=dict(text="TOPSIS results", font=dict(family=FONT, size=62, color="#222"),
                             x=0.496, xref="paper", xanchor="center", y=0.971, yref="container", yanchor="middle"),
                  legend=dict(x=0.7188, y=0.1403, xanchor="left", yanchor="top", bgcolor="white", bordercolor="black", borderwidth=4,
                              font=dict(family=FONT, size=64, color="#5a3a1e", style="italic"), itemwidth=240, tracegroupgap=0),
                  annotations=[
                      dict(text="x 10<sup>6</sup>", xref="paper", yref="paper", x=0.0, y=1.0, xanchor="left", yanchor="bottom", yshift=18, showarrow=False,
                           font=dict(family=FONT, size=58, color="black")),
                      dict(text="x 10<sup>5</sup>", xref="paper", yref="paper", x=1.0, y=0.0, xanchor="right", yanchor="top", xshift=-4, yshift=-118, showarrow=False,
                           font=dict(family=FONT, size=58, color="black")),
                  ])

fig.write_html("out.html", config={"displayModeBar": False},
               post_script="document.body.style.margin='0';document.documentElement.style.overflow='hidden';")
